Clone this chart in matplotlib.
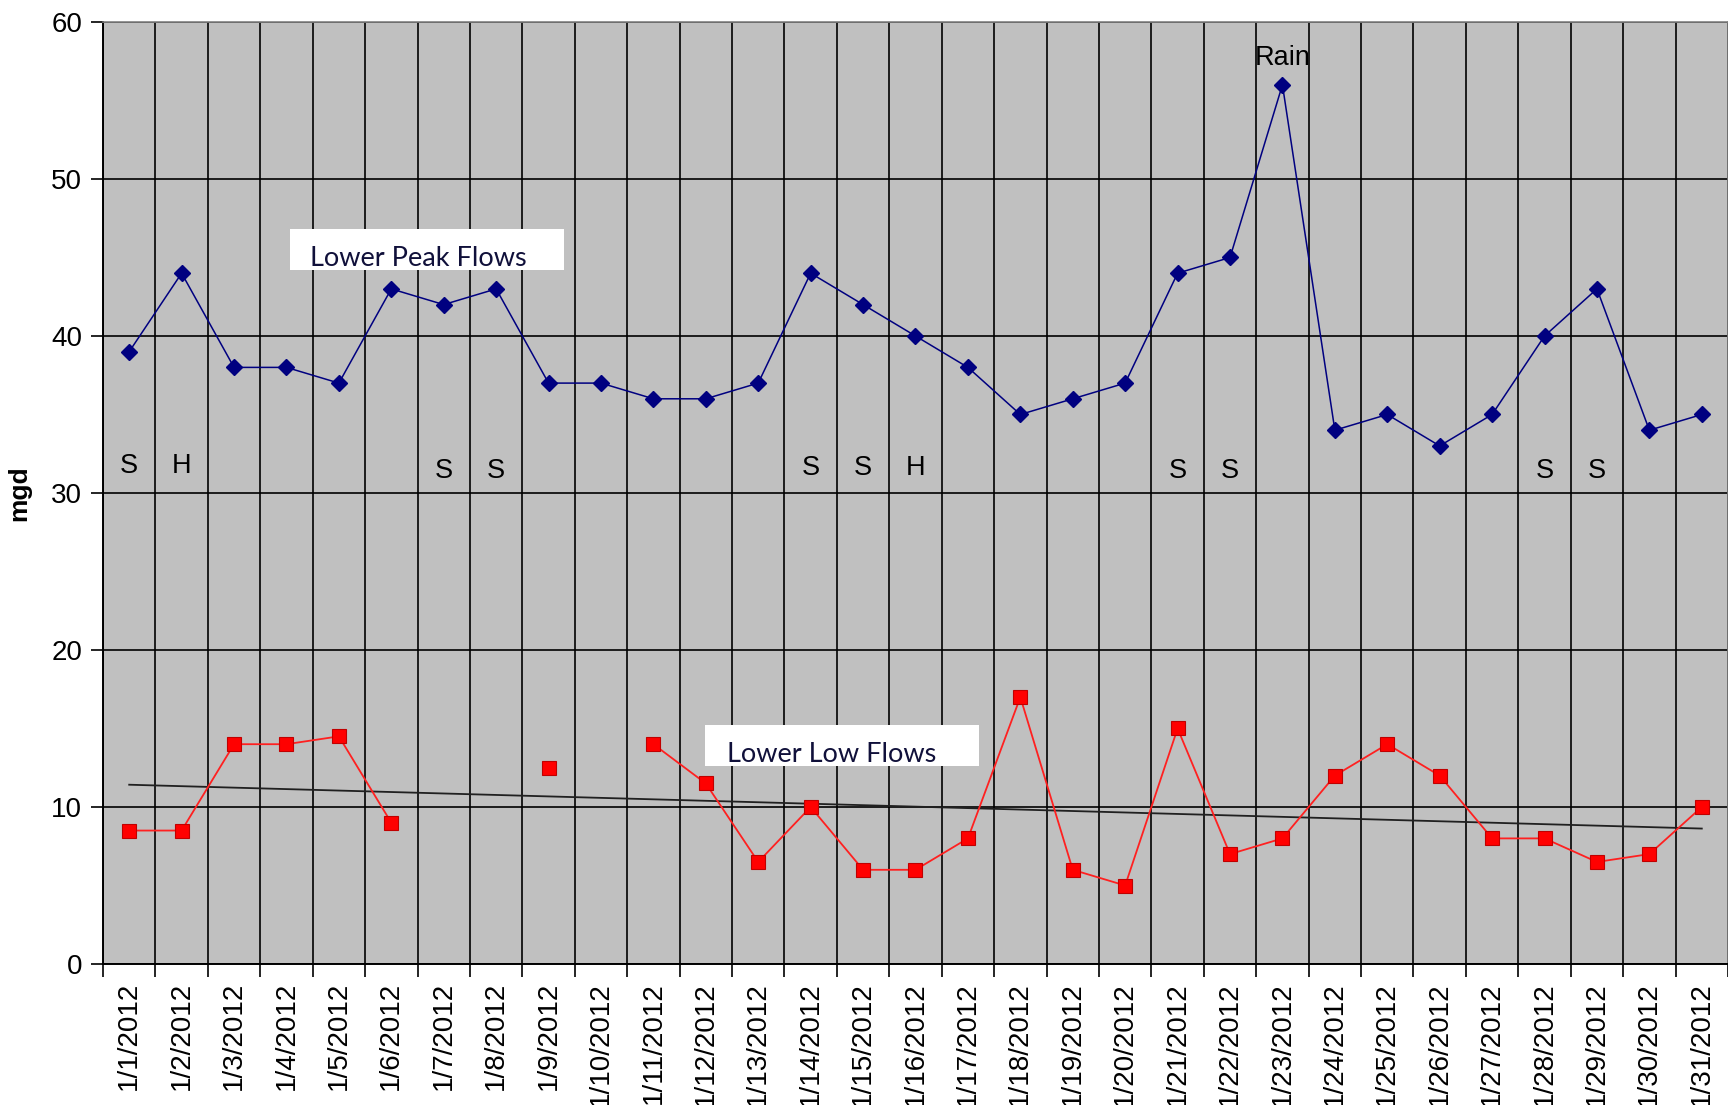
import numpy as np
import matplotlib.pyplot as plt
from matplotlib.patches import Rectangle

# daily flows, January 2012 (mgd)
dates = ["1/%d/2012" % d for d in range(1, 32)]
peak_flow = [39, 44, 38, 38, 37, 43, 42, 43, 37, 37, 36, 36, 37, 44, 42, 40,
             38, 35, 36, 37, 44, 45, 56, 34, 35, 33, 35, 40, 43, 34, 35]
low_flow = [8.5, 8.5, 14, 14, 14.5, 9, np.nan, np.nan, 12.5, np.nan, 14, 11.5,
            6.5, 10, 6, 6, 8, 17, 6, 5, 15, 7, 8, 12, 14, 12, 8, 8, 6.5, 7, 10]

# day-type notes (S = Saturday/Sunday, H = holiday)
note_days = [0, 1, 6, 7, 13, 14, 15, 20, 21, 27, 28]
note_text = ["S", "H", "S", "S", "S", "S", "H", "S", "S", "S", "S"]
note_y = [31.7, 31.7, 31.4, 31.4, 31.6, 31.6, 31.6, 31.4, 31.4, 31.4, 31.4]

x = np.arange(len(dates))
low = np.array(low_flow, dtype=float)

plt.rcParams['font.family'] = ['Liberation Sans', 'DejaVu Sans']

fig = plt.figure(figsize=(17.28, 11.05), dpi=100)
ax = fig.add_axes([0.0596, 0.1276, 0.9404, 0.8525])
ax.set_facecolor('#C0C0C0')

ax.plot(x, peak_flow, color='#000080', lw=1.1, marker='D', ms=8.5,
        mfc='#000080', mec='#000080', zorder=4)
ax.plot(x, low, color='#FF2020', lw=1.3, marker='s', ms=10,
        mfc='#FF0000', mec='#C00000', mew=0.8, zorder=4)

# linear trend of the low flows
ok = ~np.isnan(low)
coef = np.polyfit(x[ok], low[ok], 1)
ax.plot(x, np.polyval(coef, x), color='#202020', lw=1.3, zorder=3)

for d, t, yy in zip(note_days, note_text, note_y):
    ax.text(d, yy, t, ha='center', va='center', fontsize=19.5, zorder=5)
ax.text(22, 57.7, "Rain", ha='center', va='center', fontsize=19.5, zorder=5)

# callout boxes
ax.add_patch(Rectangle((3.07, 44.2), 5.22, 2.6, facecolor='white',
                       edgecolor='none', zorder=5))
ax.text(3.45, 44.45, "Lower Peak Flows", fontsize=19.5, family='Lato',
        color='#10103A', va='baseline', zorder=6)
ax.add_patch(Rectangle((10.98, 12.6), 5.23, 2.6, facecolor='white',
                       edgecolor='none', zorder=5))
ax.text(11.4, 12.85, "Lower Low Flows", fontsize=19.5, family='Lato',
        color='#10103A', va='baseline', zorder=6)

ax.set_xlim(-0.5, len(dates) - 0.5)
ax.set_ylim(0, 60)
ax.set_yticks(np.arange(0, 61, 10))
ax.set_xticks(np.arange(-0.5, len(dates), 1.0))
ax.set_xticklabels([])
ax.set_xticks(x, minor=True)
ax.set_xticklabels(dates, minor=True, rotation=90, fontsize=20)
ax.tick_params(axis='x', which='major', length=9, width=1.2, color='black')
ax.tick_params(axis='x', which='minor', length=0, pad=13)
ax.tick_params(axis='y', length=9, width=1.2, labelsize=20, pad=6)
ax.grid(True, which='major', color='black', lw=1.2, zorder=1)
ax.set_axisbelow(True)

for s in ['left', 'bottom']:
    ax.spines[s].set_color('black')
    ax.spines[s].set_linewidth(1.4)
for s in ['top', 'right']:
    ax.spines[s].set_color('#808080')
    ax.spines[s].set_linewidth(1.2)

ax.set_ylabel("mgd", fontsize=19, fontweight='bold', labelpad=14)

fig.savefig('out.png', dpi=100)
